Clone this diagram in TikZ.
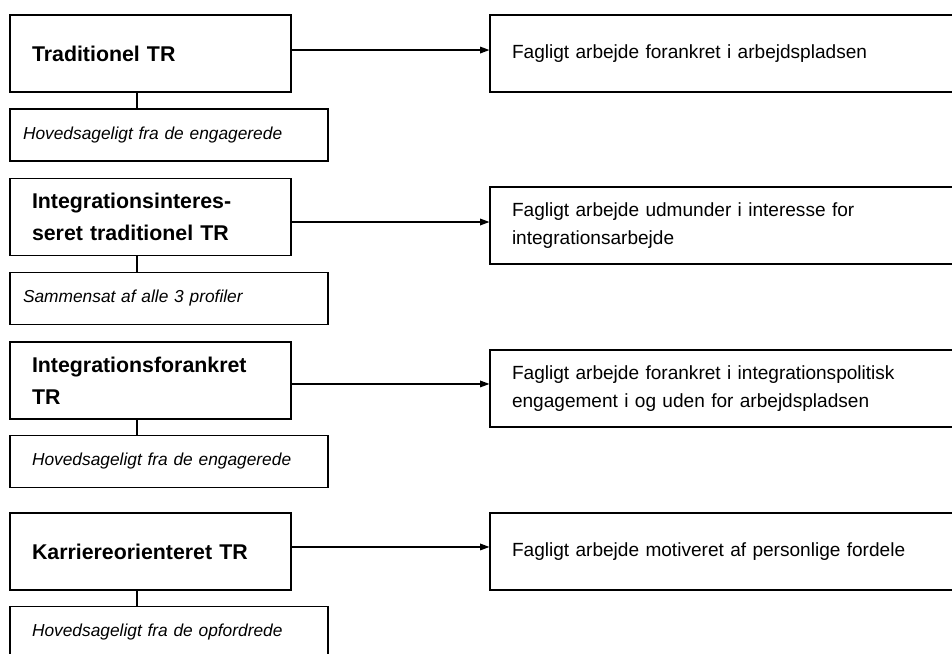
\documentclass[tikz,border=0pt]{standalone}
\usepackage{fontspec}
\setmainfont{Liberation Sans}
\usetikzlibrary{arrows.meta}

\begin{document}
\begin{tikzpicture}[
  x=0.75pt, y=-0.75pt,
  box/.style={draw, line width=0.9pt, align=left, inner xsep=16.5pt},
  prof/.style={box, text width=177.75pt, minimum height=57.75pt,
               font=\fontsize{16}{24}\selectfont\bfseries},
  res/.style={box, text width=319.5pt, minimum height=57.75pt,
              font=\fontsize{14.3}{21.4}\selectfont},
  orig/.style={box, text width=205.5pt, minimum height=39pt,
               font=\fontsize{13}{16}\selectfont\itshape},
  orignarrow/.style={orig, inner xsep=9.75pt, text width=219pt},
  >={Triangle[length=7pt, width=5pt]},
  ln/.style={->, line width=0.9pt},
  tie/.style={line width=0.9pt},
]
\useasboundingbox (0,0) rectangle (952,653);
\clip (0,0) rectangle (952,653);

\node[prof] (tr1) at (150.5,53.5) {Traditionel TR};
\node[res] (res1) at (725,53.5) {Fagligt arbejde forankret i arbejdspladsen};
\node[orignarrow] (hs1) at (169,135) {Hovedsageligt fra de engagerede};

\node[prof] (tr2) at (150.5,217) {Integrationsinteres-\\seret traditionel TR};
\node[res] (res2) at (725,225.5)
     {Fagligt arbejde udmunder i interesse for\\integrationsarbejde};
\node[orignarrow] (hs2) at (169,298.5) {Sammensat af alle 3 profiler};

\node[prof] (tr3) at (150.5,380.5) {Integrationsforankret\\TR};
\node[res] (res3) at (725,388.5)
     {Fagligt arbejde forankret i integrationspolitisk\\engagement i og uden for arbejdspladsen};
\node[orig] (hs3) at (169,461.5) {Hovedsageligt fra de engagerede};

\node[prof] (tr4) at (150.5,551.5) {Karriereorienteret TR};
\node[res] (res4) at (725,551.5) {Fagligt arbejde motiveret af personlige fordele};
\node[orig] (hs4) at (169,632.5) {Hovedsageligt fra de opfordrede};

\draw[ln] ([yshift=2.6pt]tr1.east) -- ([yshift=2.6pt]tr1.east -| res1.west);
\draw[ln] ([yshift=-3.75pt]tr2.east) -- ([yshift=-3.75pt]tr2.east -| res2.west);
\draw[ln] ([yshift=-2.6pt]tr3.east) -- ([yshift=-2.6pt]tr3.east -| res3.west);
\draw[ln] ([yshift=3.4pt]tr4.east) -- ([yshift=3.4pt]tr4.east -| res4.west);

\draw[tie] ([xshift=-10.1pt]tr1.south) -- ([xshift=-10.1pt]tr1.south |- hs1.north);
\draw[tie] ([xshift=-10.1pt]tr2.south) -- ([xshift=-10.1pt]tr2.south |- hs2.north);
\draw[tie] ([xshift=-10.1pt]tr3.south) -- ([xshift=-10.1pt]tr3.south |- hs3.north);
\draw[tie] ([xshift=-10.1pt]tr4.south) -- ([xshift=-10.1pt]tr4.south |- hs4.north);

\end{tikzpicture}
\end{document}
